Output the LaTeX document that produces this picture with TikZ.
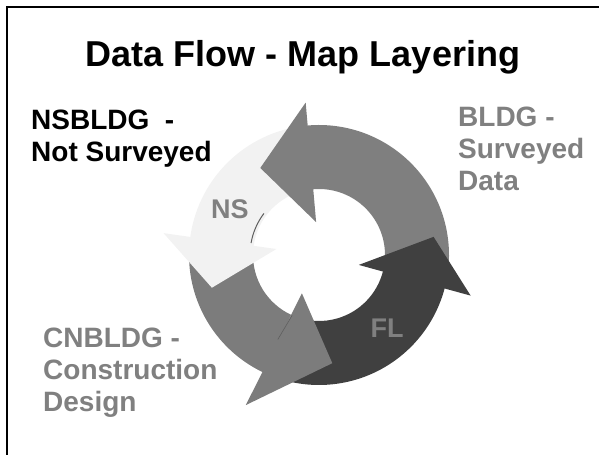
\documentclass[tikz,border=0pt]{standalone}
\usepackage{fontspec}
\setmainfont{Liberation Sans}
\usetikzlibrary{positioning}
\definecolor{clrbldg}{HTML}{7F7F7F}
\definecolor{clrns}{HTML}{F2F2F2}
\definecolor{clrcnbldg}{HTML}{7C7C7C}
\definecolor{clrfl}{HTML}{404040}
\definecolor{clrlabel}{HTML}{808080}
\definecolor{clrseam}{HTML}{5E5E5E}
\definecolor{clrframe}{HTML}{000000}

\begin{document}
\begin{tikzpicture}[
    x=1pt, y=1pt,
    every node/.style={inner sep=0pt},
    title/.style={font=\fontsize{36}{40}\selectfont\bfseries, text=black},
    sidetext/.style={font=\fontsize{28}{32}\selectfont\bfseries, align=left},
    ringlabel/.style={font=\fontsize{27}{30}\selectfont\bfseries, text=clrlabel},
    frameline/.style={draw=clrframe, line width=2pt},
    seam/.style={draw=clrseam, line width=1pt},
]
\useasboundingbox (0,0) rectangle (599,455);
\coordinate (f_corner) at (6.5,448);
\draw[frameline] (599,448) -- (f_corner) -- (6.5,0);
\coordinate (c) at (319,200);
\begin{scope}[shift={(c)}]
% ring bodies
\fill[clrbldg] (-10:130) arc[start angle=-10, end angle=96, radius=130] -- (96:66) arc[start angle=96, end angle=-10, radius=66] -- cycle;
\fill[clrns] (100:130) arc[start angle=100, end angle=173, radius=130] -- (173:66) arc[start angle=173, end angle=100, radius=66] -- cycle;
\fill[clrcnbldg] (178:130) arc[start angle=178, end angle=245, radius=130] -- (245:66) arc[start angle=245, end angle=178, radius=66] -- cycle;
\fill[clrfl] (250:130) arc[start angle=250, end angle=346, radius=130] -- (346:66) arc[start angle=346, end angle=250, radius=66] -- cycle;
% heads
\fill[clrbldg] (95:153) -- (124:105) -- (95:33) -- cycle;
\fill[clrns] (172:157) -- (197:112) -- (172:43) -- cycle;
\fill[clrcnbldg] (244:167) -- (277:109) -- (246:42) -- cycle;
\fill[clrfl] (345:157) -- (369:116) -- (346:41) -- cycle;
\draw[seam] (143:69) arc[start angle=143, end angle=170, radius=69];
\draw[seam, line width=0.6pt] (244:94) -- (246:66);
\node[ringlabel] (l_ns) at (153:100) {NS};
\node[ringlabel] (l_fl) at (-47:100) {FL};
\end{scope}
\node[title, anchor=base] (title) at (303,388) {Data Flow - Map Layering};
\node[sidetext, anchor=north west, text=black] (t_nsbldg) at (31,345) {NSBLDG\ \ -\\Not Surveyed};
\node[sidetext, anchor=north west, text=clrlabel] (t_bldg) at (458,348) {BLDG -\\Surveyed\\Data};
\node[sidetext, anchor=north west, text=clrlabel] (t_cnbldg) at (43,127) {CNBLDG -\\Construction\\Design};
\end{tikzpicture}
\end{document}
